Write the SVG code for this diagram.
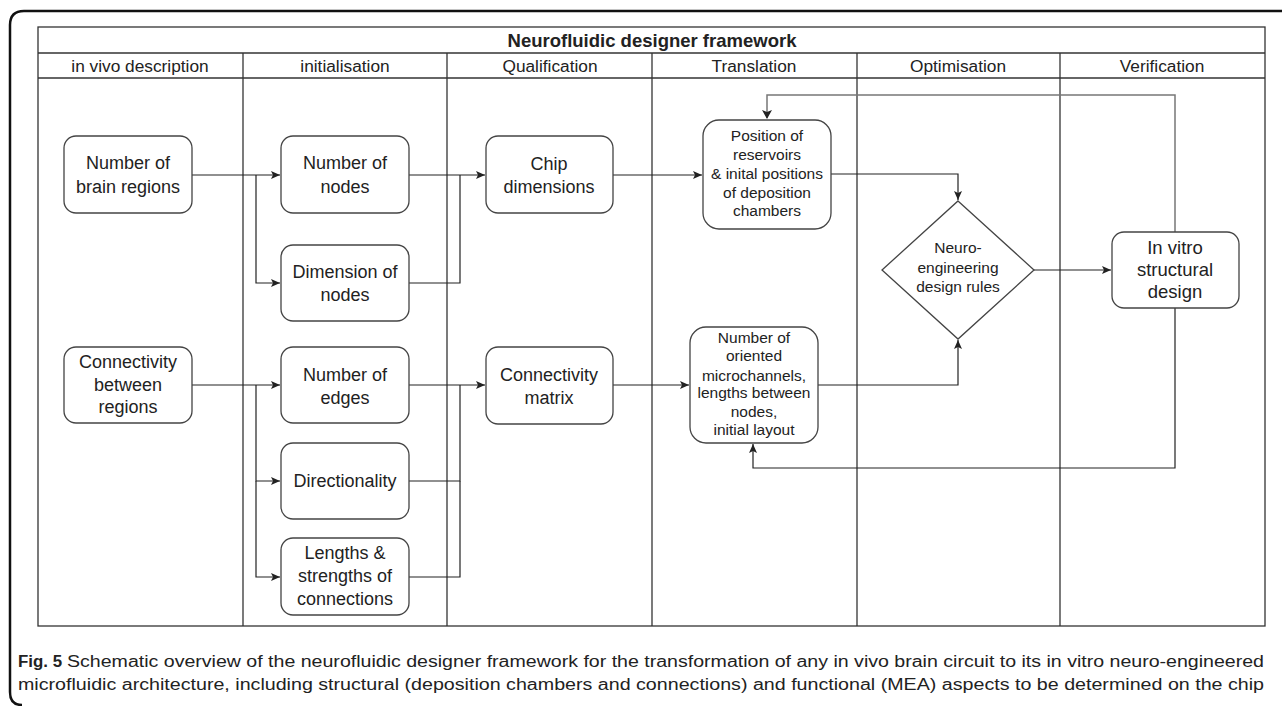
<svg xmlns="http://www.w3.org/2000/svg" width="1282" height="706" viewBox="0 0 1282 706">
<style>
.tbl{fill:none;stroke:#333;stroke-width:1.3}
.node rect,.node polygon{fill:#fff;stroke:#444;stroke-width:1.3}
.node text{font-family:"Liberation Sans",Arial,sans-serif;font-size:18px;fill:#222;text-anchor:middle}
.node text.s{font-size:15.5px}
.node text.l{font-size:18.5px}
.hdr{font-family:"Liberation Sans",Arial,sans-serif;font-size:17.3px;fill:#222;text-anchor:middle}
.edge{fill:none;stroke:#222;stroke-width:1.2}
.fb{fill:none;stroke:#777;stroke-width:1.5}
.cap{font-family:"Liberation Sans",Arial,sans-serif;font-size:16px;fill:#222}
</style>
<defs>
<marker id="ah" markerWidth="10" markerHeight="10" refX="9" refY="5" orient="auto" markerUnits="userSpaceOnUse">
<path d="M0,1 L9,5 L0,9 L2,5 Z" fill="#222"/>
</marker>
</defs>
<rect width="1282" height="706" fill="#fff"/>
<path d="M1282,11 H24 Q10,11 10,25 V692 Q10,705 22,705" fill="none" stroke="#111" stroke-width="2.5"/>
<g id="table">
<rect class="tbl" x="38" y="27" width="1227" height="599"/>
<line class="tbl" x1="38" y1="53" x2="1265" y2="53"/>
<line class="tbl" x1="38" y1="78" x2="1265" y2="78"/>
<line class="tbl" x1="243" y1="53" x2="243" y2="626"/>
<line class="tbl" x1="447" y1="53" x2="447" y2="626"/>
<line class="tbl" x1="652" y1="53" x2="652" y2="626"/>
<line class="tbl" x1="857" y1="53" x2="857" y2="626"/>
<line class="tbl" x1="1060" y1="53" x2="1060" y2="626"/>
<text class="hdr" x="652" y="47" font-weight="bold" style="font-size:18.5px">Neurofluidic designer framework</text>
<text class="hdr" x="140" y="72">in vivo description</text>
<text class="hdr" x="345" y="72">initialisation</text>
<text class="hdr" x="550" y="72">Qualification</text>
<text class="hdr" x="754" y="72">Translation</text>
<text class="hdr" x="958" y="72">Optimisation</text>
<text class="hdr" x="1162" y="72">Verification</text>
</g>
<g id="connectors">
<path class="edge" d="M192,175 H280" marker-end="url(#ah)"/>
<path class="edge" d="M256,175 V283 H280" marker-end="url(#ah)"/>
<path class="edge" d="M409,175 H485" marker-end="url(#ah)"/>
<path class="edge" d="M409,283 H460 V175"/>
<path class="edge" d="M192,385 H280" marker-end="url(#ah)"/>
<path class="edge" d="M256,385 V481 H280" marker-end="url(#ah)"/>
<path class="edge" d="M256,481 V577 H280" marker-end="url(#ah)"/>
<path class="edge" d="M409,385 H485" marker-end="url(#ah)"/>
<path class="edge" d="M409,481 H460 V385"/>
<path class="edge" d="M409,577 H460 V481"/>
<path class="edge" d="M613,175 H702" marker-end="url(#ah)"/>
<path class="edge" d="M831,174 H958 V200" marker-end="url(#ah)"/>
<path class="edge" d="M613,385 H689" marker-end="url(#ah)"/>
<path class="edge" d="M818,385 H958 V340" marker-end="url(#ah)"/>
<path class="edge" d="M1034,270 H1111" marker-end="url(#ah)"/>
<path class="fb" d="M1175,232 V95 H767 V118"/>
<path d="M767,119 L762,110 L767,112 L772,110 Z" fill="#222"/>
<path class="edge" d="M1175,308 V468 H753 V444" marker-end="url(#ah)"/>
</g>
<g id="n_brain" class="node"><rect x="64" y="136" width="128" height="77" rx="12"/><text x="128" y="169">Number of</text><text x="128" y="193">brain regions</text></g>
<g id="n_nodes" class="node"><rect x="281" y="136" width="128" height="77" rx="12"/><text x="345" y="169">Number of</text><text x="345" y="193">nodes</text></g>
<g id="n_dim" class="node"><rect x="281" y="245" width="128" height="76" rx="12"/><text x="345" y="278">Dimension of</text><text x="345" y="301">nodes</text></g>
<g id="n_conn" class="node"><rect x="64" y="347" width="128" height="76" rx="12"/><text x="128" y="368">Connectivity</text><text x="128" y="391">between</text><text x="128" y="413">regions</text></g>
<g id="n_edges" class="node"><rect x="281" y="347" width="128" height="76" rx="12"/><text x="345" y="381">Number of</text><text x="345" y="404">edges</text></g>
<g id="n_dir" class="node"><rect x="281" y="443" width="128" height="76" rx="12"/><text x="345" y="487">Directionality</text></g>
<g id="n_len" class="node"><rect x="281" y="538" width="128" height="77" rx="12"/><text x="345" y="559">Lengths &amp;</text><text x="345" y="582">strengths of</text><text x="345" y="605">connections</text></g>
<g id="n_chip" class="node"><rect x="486" y="136" width="127" height="77" rx="12"/><text x="549" y="170">Chip</text><text x="549" y="193">dimensions</text></g>
<g id="n_matrix" class="node"><rect x="486" y="347" width="127" height="77" rx="12"/><text x="549" y="381">Connectivity</text><text x="549" y="404">matrix</text></g>
<g id="n_pos" class="node"><rect x="703" y="120" width="128" height="109" rx="16"/><text class="s" x="767" y="141">Position of</text><text class="s" x="767" y="160">reservoirs</text><text class="s" x="767" y="179">&amp; inital positions</text><text class="s" x="767" y="198">of deposition</text><text class="s" x="767" y="216">chambers</text></g>
<g id="n_micro" class="node"><rect x="690" y="327" width="128" height="116" rx="16"/><text class="s" x="754" y="343">Number of</text><text class="s" x="754" y="361">oriented</text><text class="s" x="754" y="381">microchannels,</text><text class="s" x="754" y="398">lengths between</text><text class="s" x="754" y="417">nodes,</text><text class="s" x="754" y="435">initial layout</text></g>
<g id="n_rules" class="node"><polygon points="958,201 1034,270 958,339 882,270"/><text class="s" x="958" y="253">Neuro-</text><text class="s" x="958" y="273">engineering</text><text class="s" x="958" y="292">design rules</text></g>
<g id="n_vitro" class="node"><rect x="1112" y="232" width="127" height="76" rx="12"/><text class="l" x="1175" y="254">In vitro</text><text class="l" x="1175" y="276">structural</text><text class="l" x="1175" y="298">design</text></g>
<g id="caption">
<text class="cap" x="18" y="667" font-weight="bold" textLength="44" lengthAdjust="spacingAndGlyphs">Fig. 5</text>
<text class="cap" x="67" y="667" textLength="1197" lengthAdjust="spacingAndGlyphs">Schematic overview of the neurofluidic designer framework for the transformation of any in vivo brain circuit to its in vitro neuro-engineered</text>
<text class="cap" x="18" y="690" textLength="1246" lengthAdjust="spacingAndGlyphs">microfluidic architecture, including structural (deposition chambers and connections) and functional (MEA) aspects to be determined on the chip</text>
</g>
</svg>
